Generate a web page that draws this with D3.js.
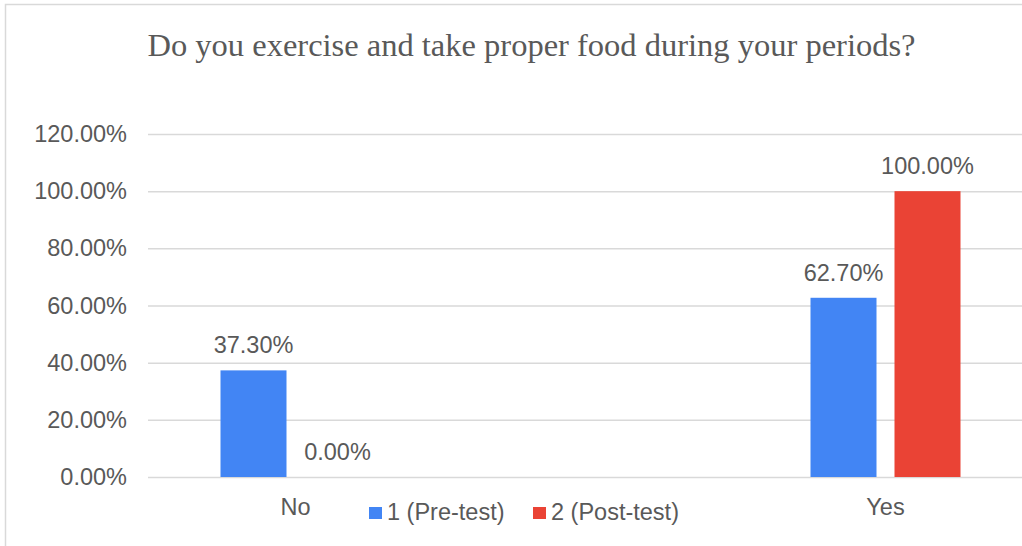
<!DOCTYPE html>
<html>
<head>
<meta charset="utf-8">
<script src="https://cdn.jsdelivr.net/npm/d3@7"></script>
<style>
  html, body { margin: 0; padding: 0; background: #fff; }
  svg { display: block; }
</style>
</head>
<body>
<svg id="chart" width="1022" height="546"></svg>
<script>
// Survey answers, share of respondents per test round
const categories = ["No", "Yes"];
const seriesNames = ["1 (Pre-test)", "2 (Post-test)"];
const preTest = [0.373, 0.627];
const postTest = [0.0, 1.0];
const yTicks = [0, 0.2, 0.4, 0.6, 0.8, 1.0, 1.2];
const title = "Do you exercise and take proper food during your periods?";

const colors = ["#4285F4", "#EA4335"];
const textColor = "#595959";
const gridColor = "#d9d9d9";
const sans = "'Liberation Sans', Arial, sans-serif";
const sansSize = 23.5;

const svg = d3.select("#chart");
const W = 1022, H = 546;

// chart frame
svg.append("path")
  .attr("d", `M5.5,${H} V4.5 H${W}`)
  .attr("fill", "none")
  .attr("stroke", gridColor)
  .attr("stroke-width", 1.5);

// title
svg.append("text")
  .attr("x", 531.5)
  .attr("y", 56)
  .attr("text-anchor", "middle")
  .attr("font-family", "'Liberation Serif', 'Times New Roman', serif")
  .attr("font-size", 32.5)
  .attr("fill", textColor)
  .text(title);

const plotLeft = 148, plotRight = 1022;
const y = d3.scaleLinear().domain([0, 1.2]).range([477, 134]);
const x = d3.scaleBand().domain(categories).range([0.5, 1180.5]).padding(0);
const xs = d3.scaleBand().domain(d3.range(seriesNames.length))
  .range([-75, 75]).paddingInner(18 / 84).paddingOuter(0);

const fmt = d => d3.format(".2f")(d * 100) + "%";

// gridlines and y labels
const yAxis = d3.axisLeft(y)
  .tickValues(yTicks)
  .tickSize(-(plotRight - plotLeft))
  .tickPadding(21)
  .tickFormat(fmt);
const gy = svg.append("g")
  .attr("transform", `translate(${plotLeft},0)`)
  .call(yAxis);
gy.select(".domain").remove();
gy.selectAll(".tick line").attr("stroke", gridColor).attr("stroke-width", 1.5);
gy.selectAll(".tick text")
  .attr("fill", textColor)
  .attr("font-family", sans)
  .attr("font-size", sansSize);

// bars
const series = [preTest, postTest];
const rows = [];
categories.forEach((c, i) => {
  series.forEach((s, j) => rows.push({ cat: c, s: j, v: s[i] }));
});

const cx = d => x(d.cat) + x.bandwidth() / 2 + xs(d.s);

svg.append("g").selectAll("rect")
  .data(rows)
  .join("rect")
  .attr("x", d => cx(d))
  .attr("width", xs.bandwidth())
  .attr("y", d => y(d.v))
  .attr("height", d => y(0) - y(d.v))
  .attr("fill", d => colors[d.s]);

// value labels
svg.append("g").selectAll("text")
  .data(rows)
  .join("text")
  .attr("x", d => cx(d) + xs.bandwidth() / 2)
  .attr("y", d => y(d.v) - 17)
  .attr("text-anchor", "middle")
  .attr("font-family", sans)
  .attr("font-size", sansSize)
  .attr("fill", textColor)
  .text(d => fmt(d.v));

// category labels
svg.append("g").selectAll("text")
  .data(categories)
  .join("text")
  .attr("x", d => x(d) + x.bandwidth() / 2)
  .attr("y", 515)
  .attr("text-anchor", "middle")
  .attr("font-family", sans)
  .attr("font-size", sansSize)
  .attr("fill", textColor)
  .text(d => d);

// legend
const legendX = [369, 533];
const lg = svg.append("g").selectAll("g")
  .data(seriesNames)
  .join("g")
  .attr("transform", (d, i) => `translate(${legendX[i]},0)`);
lg.append("rect")
  .attr("x", 0).attr("y", 507)
  .attr("width", 13).attr("height", 12)
  .attr("fill", (d, i) => colors[i]);
lg.append("text")
  .attr("x", 18).attr("y", 520)
  .attr("font-family", sans)
  .attr("font-size", sansSize)
  .attr("fill", textColor)
  .text(d => d);
</script>
</body>
</html>
